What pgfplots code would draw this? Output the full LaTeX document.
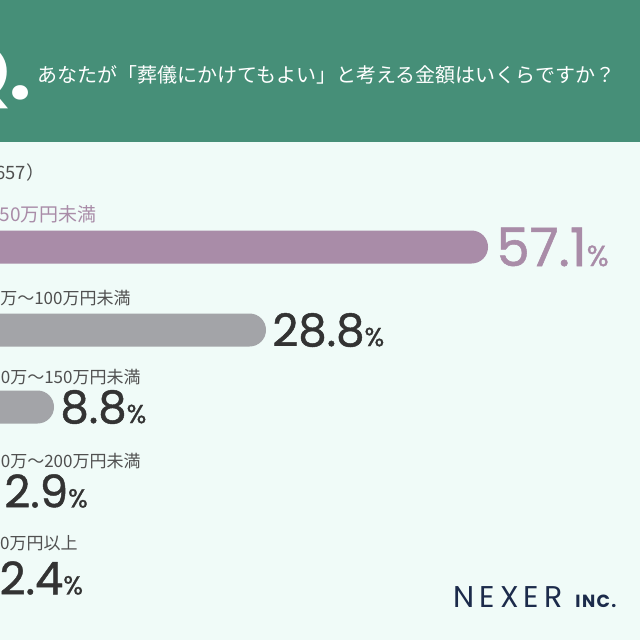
\documentclass[border=0pt]{standalone}
\usepackage{pgfplots}
\pgfplotsset{compat=1.18}
\usepackage{fontspec}
\setmainfont{Noto Sans CJK JP}
\newfontfamily\jp{Noto Sans CJK JP}
\newfontfamily\numfont[FakeBold=1]{Poppins}
\newfontfamily\qfont{Poppins}
\newfontfamily\logofont[LetterSpace=17]{Poppins}
\newfontfamily\incfont[LetterSpace=8]{Poppins}
\definecolor{hdr}{HTML}{468F78}
\definecolor{bg}{HTML}{F0FBF8}
\definecolor{mauve}{HTML}{A98CA8}
\definecolor{bargray}{HTML}{A3A4A8}
\definecolor{numdark}{HTML}{333333}
\definecolor{lblgray}{HTML}{505050}
\definecolor{navy}{HTML}{1C2B4B}
\newcommand{\fs}[1]{\fontsize{#1}{#1}\selectfont}
\begin{document}
\begin{tikzpicture}
\path[use as bounding box] (0,0) rectangle (320pt,-320pt);
\clip (0,0) rectangle (320pt,-320pt);
\fill[bg] (0,0) rectangle (320pt,-320pt);
\fill[hdr] (0,0) rectangle (320pt,-71pt);
\node[anchor=base east, inner sep=0pt, text=white, font=\qfont\bfseries\fs{39pt}] at (16pt,-50pt) {Q.};
\node[anchor=west, inner sep=0pt, text=white, font=\jp\fs{10pt}] at (18.5pt,-37.5pt) {あなたが「葬儀にかけてもよい」と考える金額はいくらですか？};
\node[anchor=east, inner sep=0pt, text=lblgray, font=\jp\fs{9.2pt}] at (22.5pt,-86.5pt) {（n=657）};
% category labels
\node[anchor=east, inner sep=0pt, text=mauve, font=\jp\fs{9.5pt}] at (48.5pt,-107pt) {50万円未満};
\node[anchor=east, inner sep=0pt, text=lblgray, font=\jp\fs{8.5pt}] at (65.5pt,-149pt) {50万～100万円未満};
\node[anchor=east, inner sep=0pt, text=lblgray, font=\jp\fs{8.5pt}] at (70.5pt,-188.5pt) {100万～150万円未満};
\node[anchor=east, inner sep=0pt, text=lblgray, font=\jp\fs{8.5pt}] at (70.5pt,-230.5pt) {150万～200万円未満};
\node[anchor=east, inner sep=0pt, text=lblgray, font=\jp\fs{8.5pt}] at (39pt,-271.5pt) {200万円以上};
% logo
\node[anchor=base west, inner sep=0pt, text=navy, font=\logofont\fs{15pt}] at (226.5pt,-303.5pt) {NEXER};
\node[anchor=base west, inner sep=0pt, text=navy, font=\incfont\bfseries\fs{8.8pt}] at (287.5pt,-303.5pt) {INC.};
\begin{axis}[at={(-14.75pt,-71pt)}, anchor=north west, scale only axis,
  width=334.75pt, height=249pt, hide axis, clip=false,
  xmin=0, xmax=76.47, ymin=142, ymax=640, y dir=reverse,
  x coord trafo/.code={\pgfmathparse{ifthenelse(#1<=8.8,-29.5+9.49*#1,ifthenelse(#1<=28.8,54+10.6*(#1-8.8),266+7.845*(#1-28.8)))}},
  x coord inv trafo/.code={\pgfmathparse{ifthenelse(#1<=54,(#1+29.5)/9.49,ifthenelse(#1<=266,8.8+(#1-54)/10.6,28.8+(#1-266)/7.845))}},
  small label/.style={draw=none, mark=none, point meta=explicit symbolic,
    nodes near coords={\numfont\fs{22.5pt}\pgfplotspointmeta\fs{13pt}\%},
    every node near coord/.style={anchor=west, inner sep=0pt, xshift=3pt, text=numdark}},
]
% bars
\addplot[fill=mauve, draw=none, rounded corners=8.25pt] coordinates {(0,230.5) (57.1,230.5) (57.1,263.5) (0,263.5)} -- cycle;
\addplot[fill=bargray, draw=none, rounded corners=8.25pt] coordinates {(0,313.5) (28.8,313.5) (28.8,346.5) (0,346.5)} -- cycle;
\addplot[fill=bargray, draw=none, rounded corners=8.25pt] coordinates {(0,390.5) (8.8,390.5) (8.8,423.5) (0,423.5)} -- cycle;
\addplot[fill=bargray, draw=none, rounded corners=8.25pt] coordinates {(0,474.5) (2.9,474.5) (2.9,507.5) (0,507.5)} -- cycle;
\addplot[fill=bargray, draw=none, rounded corners=8.25pt] coordinates {(0,561.5) (2.4,561.5) (2.4,594.5) (0,594.5)} -- cycle;
% value labels
\addplot[draw=none, mark=none, point meta=explicit symbolic,
  nodes near coords={\numfont\fs{26.5pt}\pgfplotspointmeta\fs{14.5pt}\%},
  every node near coord/.style={anchor=west, inner sep=0pt, xshift=4pt, text=mauve}]
  coordinates {(57.1,247) [57.1]};
\addplot[small label] coordinates {(28.8,330) [28.8]};
\addplot[small label] coordinates {(8.8,407) [8.8]};
\addplot[small label] coordinates {(2.9,491) [2.9]};
\addplot[small label] coordinates {(2.4,578) [2.4]};
\end{axis}
\end{tikzpicture}
\end{document}
